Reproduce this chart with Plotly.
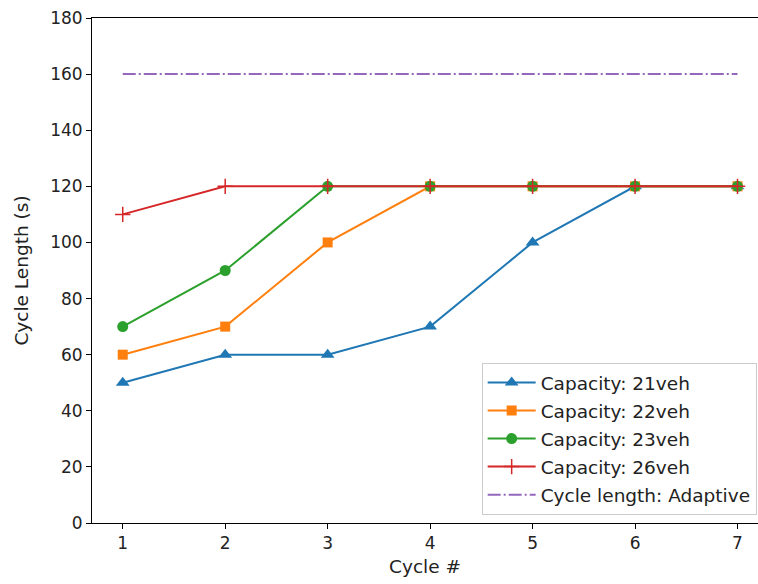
import plotly.graph_objects as go

cycles = [1, 2, 3, 4, 5, 6, 7]
cap_21 = [50, 60, 60, 70, 100, 120, 120]
cap_22 = [60, 70, 100, 120, 120, 120, 120]
cap_23 = [70, 90, 120, 120, 120, 120, 120]
cap_26 = [110, 120, 120, 120, 120, 120, 120]
adaptive = [160, 160, 160, 160, 160, 160, 160]

series = [
    ("Capacity: 21veh", cap_21, "#1f77b4", "triangle-up", 12),
    ("Capacity: 22veh", cap_22, "#ff7f0e", "square", 10),
    ("Capacity: 23veh", cap_23, "#2ca02c", "circle", 11),
    ("Capacity: 26veh", cap_26, "#d62728", "cross-thin", 11),
]

fig = go.Figure()
for i, (name, vals, col, sym, sz) in enumerate(series):
    fig.add_trace(go.Scatter(
        x=cycles, y=vals, name=name, mode="lines+markers",
        line=dict(color=col, width=2),
        marker=dict(symbol=sym, size=sz, color=col,
                    line=dict(color=col, width=1.5 if sym == "cross-thin" else 0)),
        legendgroup=f"g{i}",
    ))
fig.add_trace(go.Scatter(
    x=cycles, y=adaptive, name="Cycle length: Adaptive", mode="lines",
    line=dict(color="#9467bd", width=2, dash="13px,3px,2px,3px"),
    legendgroup="g5",
))

font = dict(family="DejaVu Sans", size=17, color="#222222")
title_font = dict(family="DejaVu Sans", size=18.5, color="#222222")
legend_font = dict(family="DejaVu Sans", size=18.5, color="#222222")
fig.update_layout(
    width=758, height=584,
    margin=dict(l=92, r=0, t=18, b=61),
    plot_bgcolor="white", paper_bgcolor="white",
    font=font,
    showlegend=True,
    legend=dict(
        x=0.998, y=0.016, xanchor="right", yanchor="bottom",
        bgcolor="rgba(255,255,255,0.8)", bordercolor="#cccccc", borderwidth=1,
        tracegroupgap=1, traceorder="grouped", font=legend_font,
        itemwidth=48,
    ),
    xaxis=dict(
        range=[0.7, 7.2], tickmode="array", tickvals=cycles,
        ticks="outside", ticklen=5, tickcolor="black", showgrid=False,
        zeroline=False, showline=True, linecolor="black", linewidth=1,
        mirror=True, tickfont=font,
        title=dict(text="Cycle #", font=title_font, standoff=7),
    ),
    yaxis=dict(
        range=[0, 180], tickmode="array", tickvals=list(range(0, 181, 20)),
        ticks="outside", ticklen=5, tickcolor="black", showgrid=False,
        zeroline=False, showline=True, linecolor="black", linewidth=1,
        tickfont=font,
        title=dict(text="Cycle Length (s)", font=title_font, standoff=16),
    ),
)
fig.write_html(
    "out.html",
    config={"displayModeBar": False},
    post_script="document.body.style.margin='0';document.body.style.overflow='hidden';",
)
